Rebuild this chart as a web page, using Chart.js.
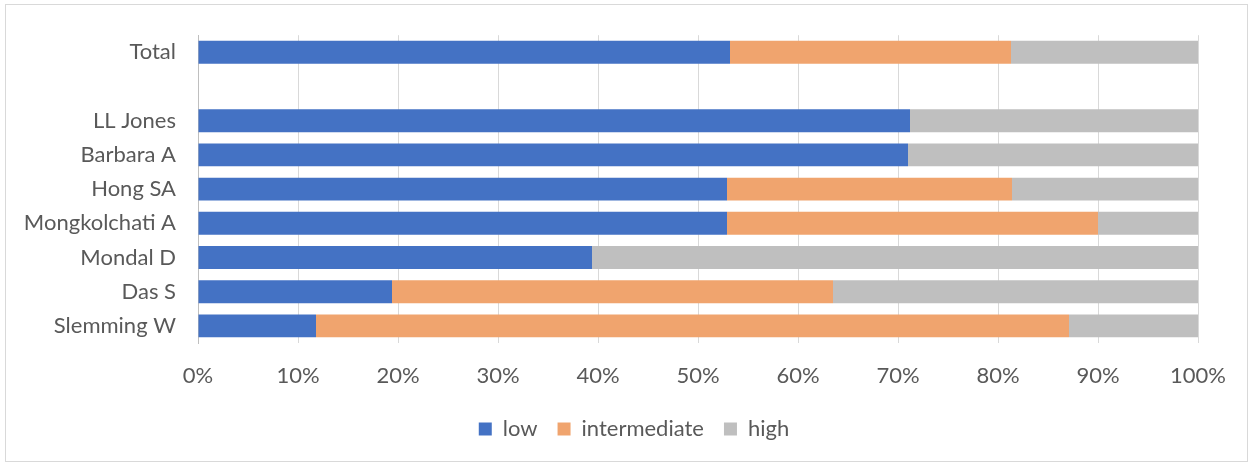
<!DOCTYPE html>
<html>
<head>
<meta charset="utf-8">
<script src="https://cdn.jsdelivr.net/npm/chart.js@4/dist/chart.umd.min.js"></script>
<style>
  html, body { margin: 0; padding: 0; background: #fff; }
  #wrap { position: relative; width: 1254px; height: 466px; }
  #frame { position: absolute; left: 5px; top: 4px; width: 1241px; height: 456px; border: 1px solid #d9d9d9; pointer-events: none; }
</style>
</head>
<body>
<div id="wrap">
  <canvas id="chart" width="1254" height="466"></canvas>
  <div id="frame"></div>
</div>
<script>
// Categorías (fila vacía entre Total y los autores)
const categorias = ['Total', '', 'LL Jones', 'Barbara A', 'Hong SA', 'Mongkolchati A', 'Mondal D', 'Das S', 'Slemming W'];

// Porcentajes por serie
const bajo = [53.2, null, 71.2, 71.0, 52.9, 52.9, 39.4, 19.4, 11.8];
const intermedio = [28.1, null, 0, 0, 28.5, 37.1, 0, 44.1, 75.3];
const alto = [18.7, null, 28.8, 29.0, 18.6, 10.0, 60.6, 36.5, 12.9];

const ticksX = [0, 10, 20, 30, 40, 50, 60, 70, 80, 90, 100];

const fuente = "Lato, 'Noto Sans', sans-serif";
const gris = '#595959';

// Desplaza la leyenda para centrarla en el lienzo, como en el original
const moverLeyenda = {
  id: 'moverLeyenda',
  afterLayout(chart) {
    const l = chart.legend;
    if (!l) return;
    l.left += 35;
    l.right += 35;
    (l.legendHitBoxes || []).forEach(b => { b.left += 35; });
  }
};

const ctx = document.getElementById('chart').getContext('2d');

new Chart(ctx, {
  type: 'bar',
  data: {
    labels: categorias,
    datasets: [
      { label: 'low', data: bajo, backgroundColor: '#4472c4' },
      { label: 'intermediate', data: intermedio, backgroundColor: '#f0a46e' },
      { label: 'high', data: alto, backgroundColor: '#bfbfbf' }
    ]
  },
  plugins: [moverLeyenda],
  options: {
    indexAxis: 'y',
    responsive: false,
    animation: false,
    devicePixelRatio: 1,
    categoryPercentage: 1,
    barPercentage: 0.67,
    layout: { padding: { top: 32, right: 56, left: 0, bottom: 16 } },
    plugins: {
      tooltip: { enabled: false },
      legend: {
        position: 'bottom',
        labels: {
          boxWidth: 13,
          boxHeight: 13,
          padding: 20,
          color: gris,
          font: { family: fuente, size: 22 }
        }
      }
    },
    scales: {
      x: {
        stacked: true,
        min: 0,
        max: 100,
        afterBuildTicks: (scale) => { scale.ticks = ticksX.map(v => ({ value: v })); },
        afterFit: (scale) => { scale.height = 55; },
        grid: { color: '#d9d9d9', drawTicks: false },
        border: { display: false },
        ticks: {
          padding: 20,
          color: gris,
          font: { family: fuente, size: 22 },
          callback: (v) => v + '%'
        }
      },
      y: {
        stacked: true,
        afterFit: (scale) => { scale.width = 198; },
        grid: { display: false, drawTicks: false },
        border: { display: true, color: '#bfbfbf' },
        ticks: {
          padding: 22,
          color: gris,
          font: { family: fuente, size: 22 }
        }
      }
    }
  }
});
</script>
</body>
</html>
